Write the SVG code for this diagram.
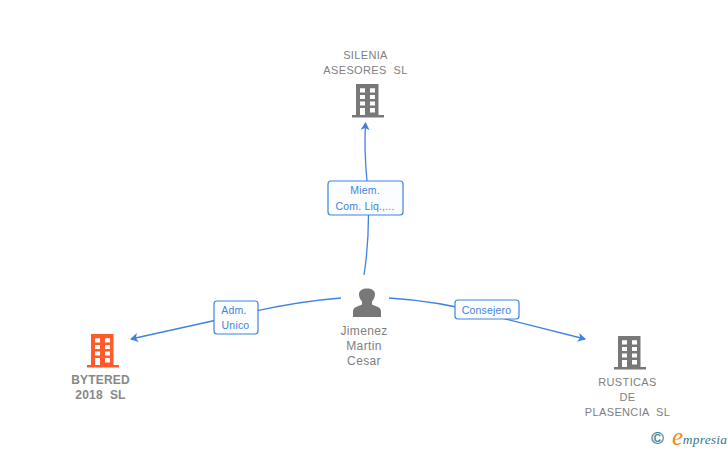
<svg xmlns="http://www.w3.org/2000/svg" width="728" height="450" viewBox="0 0 728 450">
<style>
text{font-family:"Liberation Sans",Arial,sans-serif;text-anchor:middle}
.n{font-size:11px;fill:#808080;letter-spacing:.35px}
.b{font-weight:bold;font-size:12px;letter-spacing:.2px;fill:#888}
.p{font-size:12px;fill:#808080;letter-spacing:.35px}
.l{font-size:10.500px;fill:#3f83e0;letter-spacing:.2px}
.box{fill:#fcfdff;stroke:#3f83e0;stroke-width:1.200}
.c{fill:none;stroke:#3f83e0;stroke-width:1.300}
</style>
<defs>
<marker id="a" markerWidth="10" markerHeight="10" refX="7" refY="5" orient="auto" markerUnits="userSpaceOnUse"><path d="M0 .5L8 5L0 9.500L2 5Z" fill="#3f83e0"/></marker>
<symbol id="bld" viewBox="0 0 32 34" overflow="visible">
<path fill-rule="evenodd" d="M4 0H26.500V31H32V33.500H0V31H4ZM8 4.300V8.500H13V4.300ZM18 4.300V8.500H23V4.300ZM8 11V15H13V11ZM18 11V15H23V11ZM8 17.500V21.500H13V17.500ZM18 17.500V21.500H23V17.500ZM8 24V31H13V24ZM18 24V28.500H23V24Z"/>
</symbol>
</defs>
<rect width="728" height="450" fill="#fff"/>
<g id="connectors">
<path class="c" d="M364 275Q371 230 367 181"/>
<path class="c" d="M367 181Q364 150 365.500 123" marker-end="url(#a)"/>
<path class="c" d="M341 298Q290 302 235 316L131 339" marker-end="url(#a)"/>
<path class="c" d="M389 298Q440 301 490 315L585 339" marker-end="url(#a)"/>
</g>
<g id="node-silenia">
<use href="#bld" x="352" y="84" width="32" height="34" fill="#787878"/>
<text class="n" x="365.500" y="59">SILENIA</text>
<text class="n" x="365.500" y="74" xml:space="preserve">ASESORES  SL</text>
</g>
<g id="node-bytered">
<use href="#bld" x="87" y="334" width="32" height="34" fill="#ff5a2c"/>
<text class="n b" x="100.500" y="384">BYTERED</text>
<text class="n b" x="100.500" y="399" xml:space="preserve">2018  SL</text>
</g>
<g id="node-rusticas">
<use href="#bld" x="614" y="336" width="32" height="34" fill="#787878"/>
<text class="n" x="627.500" y="386">RUSTICAS</text>
<text class="n" x="627.500" y="401">DE</text>
<text class="n" x="627.500" y="416" xml:space="preserve">PLASENCIA  SL</text>
</g>
<g id="node-jimenez">
<path fill="#787878" d="M353 317V311.500C353 307 358 306.500 362 304.500V301.500C359.500 299 359 296 359 294C359 290.500 362.500 288.500 367 288.500C371.500 288.500 375 290.500 375 294C375 296 374.500 299 372 301.500V304.500C376 306.500 381 307 381 311.500V317Z"/>
<text class="p" x="364" y="335">Jimenez</text>
<text class="p" x="364" y="350">Martin</text>
<text class="p" x="364" y="365">Cesar</text>
</g>
<g id="label-miem">
<rect class="box" x="328" y="181" width="75" height="34" rx="3"/>
<text class="l" x="365" y="194">Miem.</text>
<text class="l" x="365" y="210">Com. Liq.,...</text>
</g>
<g id="label-adm">
<rect class="box" x="214" y="301" width="44" height="33" rx="3"/>
<text class="l" x="234" y="314">Adm.</text>
<text class="l" x="235.500" y="329">Unico</text>
</g>
<g id="label-consejero">
<rect class="box" x="455" y="300" width="64" height="19" rx="3"/>
<text class="l" x="486.500" y="313.500">Consejero</text>
</g>
<g id="logo">
<text x="657.500" y="444" style="font-size:17px;fill:#3d7f96;stroke:#3d7f96;stroke-width:.3">©</text>
<text x="677.500" y="445" style="font-family:'Liberation Serif',serif;font-style:italic;font-size:25px;fill:#f08a1d">e</text>
<text x="705" y="444" style="font-family:'Liberation Serif',serif;font-style:italic;font-size:13.500px;fill:#2d7b8f;letter-spacing:.2px">mpresia</text>
</g>
</svg>
